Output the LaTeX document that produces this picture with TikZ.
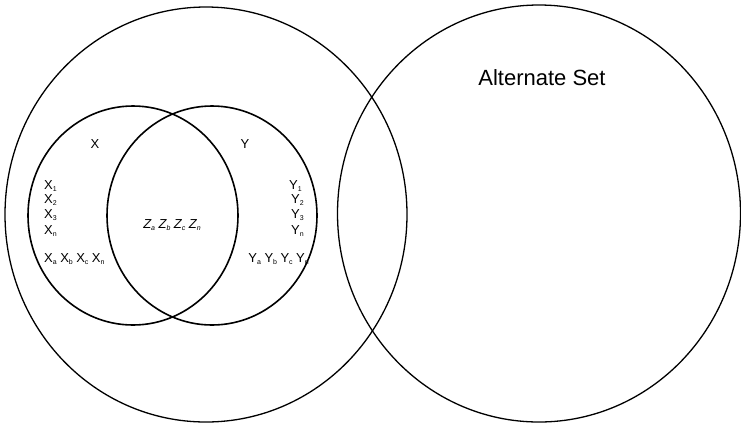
\documentclass[tikz,border=0pt]{standalone}
\usepackage{fontspec}
\setmainfont{Liberation Sans}
\newcommand\sbx[1]{\raisebox{-0.3ex}{\fontsize{7}{8}\selectfont #1}}
\newcommand\gp{\hspace{3.5pt}}
\begin{document}
\begin{tikzpicture}[x=1pt,y=-1pt,
  bigset/.style={line width=1.3pt},
  smallset/.style={line width=1.6pt},
  lbl/.style={inner sep=0pt,font=\fontsize{13}{15}\selectfont},
  title/.style={inner sep=0pt,font=\fontsize{22}{24}\selectfont}]
\useasboundingbox (0,0) rectangle (741,424);
\draw[bigset] (206,214.5) ellipse [x radius=201pt, y radius=207.5pt];
\draw[bigset] (539,213.5) ellipse [x radius=201.5pt, y radius=208.5pt];
\draw[smallset] (133,215.5) ellipse [x radius=105pt, y radius=109.5pt];
\draw[smallset] (212,215.5) ellipse [x radius=105pt, y radius=109.5pt];
\node[title,anchor=base] (alt) at (542,85) {Alternate Set};
\node[lbl,anchor=base] (xl) at (95,148) {X};
\node[lbl,anchor=base] (yl) at (245,148) {Y};
\node[lbl,anchor=base west] (x1) at (44,189) {X\sbx{1}};
\node[lbl,anchor=base west] (x2) at (44,203.5) {X\sbx{2}};
\node[lbl,anchor=base west] (x3) at (44,218.5) {X\sbx{3}};
\node[lbl,anchor=base west] (xn) at (44,234) {X\sbx{n}};
\node[lbl,anchor=base west] (xr) at (44,262) {X\sbx{a}\gp X\sbx{b}\gp X\sbx{c}\gp X\sbx{n}};
\node[lbl,anchor=base east] (y1) at (302,189) {Y\sbx{1}};
\node[lbl,anchor=base east] (y2) at (304,203.5) {Y\sbx{2}};
\node[lbl,anchor=base east] (y3) at (304,218.5) {Y\sbx{3}};
\node[lbl,anchor=base east] (yn) at (304,234) {Y\sbx{n}};
\node[lbl,anchor=base east] (yr) at (309,262) {Y\sbx{a}\gp Y\sbx{b}\gp Y\sbx{c}\gp Y\sbx{n}};
\node[lbl,anchor=base,font=\fontsize{13}{15}\selectfont\itshape] (zr) at (172,228) {Z\sbx{a}\gp Z\sbx{b}\gp Z\sbx{c}\gp Z\sbx{n}};
\end{tikzpicture}
\end{document}
